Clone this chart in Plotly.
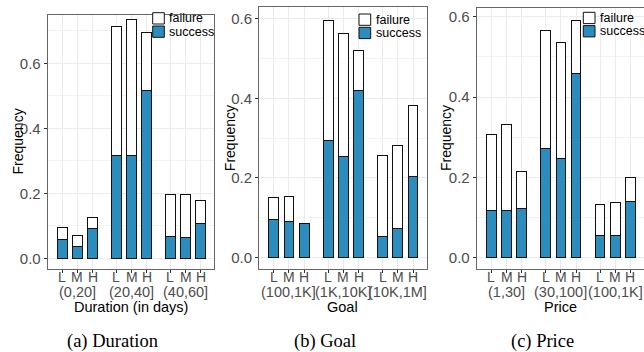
import plotly.graph_objects as go

W, H = 644, 352

# ---------------- data ----------------
levels = ["L", "M", "H"]

dur_groups = ["(0,20]", "(20,40]", "(40,60]"]
dur_success = [0.058, 0.037, 0.092, 0.317, 0.316, 0.518, 0.066, 0.065, 0.106]
dur_failure = [0.036, 0.034, 0.034, 0.396, 0.420, 0.177, 0.129, 0.130, 0.072]

goal_groups = ["(100,1K]", "(1K,10K]", "(10K,1M]"]
goal_success = [0.094, 0.091, 0.086, 0.295, 0.253, 0.420, 0.052, 0.072, 0.204]
goal_failure = [0.056, 0.061, 0.000, 0.302, 0.311, 0.100, 0.205, 0.210, 0.177]

price_groups = ["(1,30]", "(30,100]", "(100,1K]"]
price_success = [0.117, 0.119, 0.124, 0.273, 0.248, 0.459, 0.055, 0.055, 0.140]
price_failure = [0.191, 0.212, 0.091, 0.292, 0.288, 0.133, 0.079, 0.083, 0.059]

y_ticks = [0.0, 0.2, 0.4, 0.6]
# --------------------------------------

BLUE = "#2b8cbe"
GRAY_TXT = "#4d4d4d"
FONT = "Liberation Sans, Arial, Helvetica, sans-serif"
SERIF = "Liberation Serif, Times New Roman, serif"


def px_x(v):
    return v / W


def px_y(v):
    return 1 - v / H


panels = [
    dict(groups=dur_groups, success=dur_success, failure=dur_failure,
         title="Duration (in days)", caption="(a) Duration",
         box=(47.7, 214.3, 15.0, 269.0), yr=[-0.0329, 0.749],
         ylab_x=17.5, cap_x=112, leg=(152.7, 164.3, 12.7, 167.3)),
    dict(groups=goal_groups, success=goal_success, failure=goal_failure,
         title="Goal", caption="(b) Goal",
         box=(259.0, 426.7, 7.3, 269.0), yr=[-0.0294, 0.629],
         ylab_x=230.0, cap_x=324.5, leg=(359.0, 370.7, 14.0, 374.0)),
    dict(groups=price_groups, success=price_success, failure=price_failure,
         title="Price", caption="(c) Price",
         box=(476.7, 644.0, 7.7, 269.0), yr=[-0.0274, 0.6226],
         ylab_x=446.7, cap_x=542, leg=(583.3, 595.0, 12.3, 598.0)),
]

fig = go.Figure()
annotations = []
shapes = []
layout = {}

for i, p in enumerate(panels):
    n = "" if i == 0 else str(i + 1)
    xa, ya = "x" + n, "y" + n
    pos = [g + 1 + (b - 1) * 0.28 for g in range(len(p["groups"])) for b in range(len(levels))]
    labels = [lv for _ in p["groups"] for lv in levels]

    fig.add_trace(go.Bar(x=pos, y=p["success"], width=0.18, name="success",
                         marker=dict(color=BLUE, line=dict(color="#111111", width=1)),
                         xaxis=xa, yaxis=ya, showlegend=False))
    fig.add_trace(go.Bar(x=pos, y=p["failure"], width=0.18, name="failure",
                         marker=dict(color="white", line=dict(color="#111111", width=1)),
                         xaxis=xa, yaxis=ya, showlegend=False))

    x0, x1, y0, y1 = p["box"]
    layout["xaxis" + n] = dict(
        domain=[px_x(x0), min(1.0, px_x(x1))], anchor=ya, range=[0.45, 3.53],
        tickmode="array", tickvals=pos, ticktext=labels, showticklabels=False,
        ticks="outside", ticklen=3, tickcolor="#333333", tickwidth=1,
        showgrid=True, gridcolor="#ebebeb", gridwidth=1,
        showline=True, mirror=True, linecolor="#666666", linewidth=1,
        zeroline=False, fixedrange=True,
    )
    layout["yaxis" + n] = dict(
        domain=[px_y(y1), px_y(y0)], anchor=xa, range=p["yr"],
        tickmode="array", tickvals=y_ticks, tickformat=".1f",
        tickfont=dict(size=15, color=GRAY_TXT, family=FONT),
        ticks="outside", ticklen=3, tickcolor="#333333", tickwidth=1,
        showgrid=True, gridcolor="#ebebeb", gridwidth=1,
        minor=dict(tickvals=[0.1, 0.3, 0.5, 0.7], showgrid=True,
                   gridcolor="#f3f3f3", gridwidth=0.6, ticks=""),
        showline=True, mirror=True, linecolor="#666666", linewidth=1,
        zeroline=False, fixedrange=True,
    )

    # L / M / H labels under each bar
    for xv, lv in zip(pos, labels):
        annotations.append(dict(x=xv, y=px_y(277.0), xref=xa, yref="paper",
                                text=lv, showarrow=False, xanchor="center", yanchor="middle",
                                font=dict(size=14, color=GRAY_TXT, family=FONT)))
    # group labels
    for g, gl in enumerate(p["groups"]):
        annotations.append(dict(x=g + 1, y=px_y(292.2), xref=xa, yref="paper",
                                text=gl, showarrow=False, xanchor="center", yanchor="middle",
                                font=dict(size=14.5, color=GRAY_TXT, family=FONT)))
    # x-axis title
    annotations.append(dict(x=px_x((x0 + x1) / 2), y=px_y(307.2), xref="paper", yref="paper",
                            text=p["title"], showarrow=False, xanchor="center", yanchor="middle",
                            font=dict(size=14.5, color="black", family=FONT)))
    # y-axis title
    annotations.append(dict(x=px_x(p["ylab_x"]), y=px_y((y0 + y1) / 2), xref="paper", yref="paper",
                            text="Frequency", textangle=-90, showarrow=False,
                            xanchor="center", yanchor="middle",
                            font=dict(size=14, color="black", family=FONT)))
    # caption
    annotations.append(dict(x=px_x(p["cap_x"]), y=px_y(341.0), xref="paper", yref="paper",
                            text=p["caption"], showarrow=False, xanchor="center", yanchor="middle",
                            font=dict(size=18.5, color="black", family=SERIF)))

    # legend (failure on top, success below)
    lx0, lx1, ly0, tx = p["leg"]
    bh = 11.3
    for k, (nm, col) in enumerate([("failure", "white"), ("success", BLUE)]):
        top = ly0 + k * 13.3
        shapes.append(dict(type="rect", xref="paper", yref="paper",
                           x0=px_x(lx0), x1=px_x(lx1), y0=px_y(top + bh), y1=px_y(top),
                           fillcolor=col, line=dict(color="#111111", width=1), layer="above"))
        annotations.append(dict(x=px_x(tx), y=px_y(top + bh / 2), xref="paper", yref="paper",
                                text=nm, showarrow=False, xanchor="left", yanchor="middle",
                                font=dict(size=12.5, color="black", family=FONT)))

fig.update_layout(
    width=W, height=H, margin=dict(l=0, r=0, t=0, b=0),
    paper_bgcolor="white", plot_bgcolor="white",
    barmode="stack", showlegend=False,
    annotations=annotations, shapes=shapes,
    font=dict(family=FONT),
    **layout,
)

fig.write_html("out.html", config={"displayModeBar": False},
               post_script="document.body.style.margin='0px';document.body.style.overflow='hidden';")
